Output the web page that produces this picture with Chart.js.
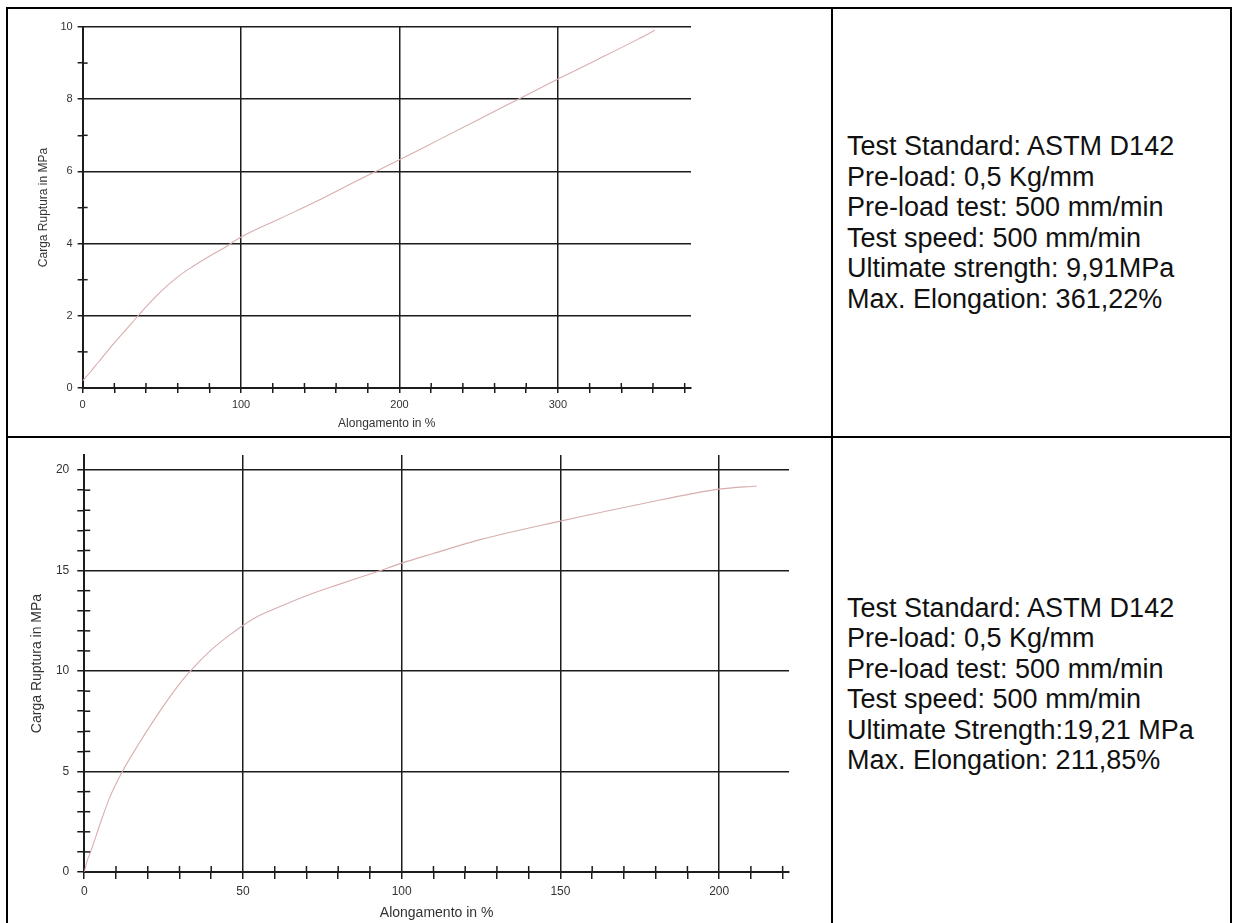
<!DOCTYPE html>
<html>
<head>
<meta charset="utf-8">
<script src="https://cdn.jsdelivr.net/npm/chart.js@4/dist/chart.umd.min.js"></script>
<style>
	html, body { margin: 0; padding: 0; background: #fff; overflow: hidden; }
	body { width: 1239px; height: 923px; position: relative; font-family: 'Liberation Sans', Arial, sans-serif; }
	.rule { position: absolute; background: #000; z-index: 2; }
	canvas { position: absolute; left: 0; }
	.info {
		position: absolute; left: 847px; width: 380px;
		display: flex; flex-direction: column; justify-content: center;
		font-size: 27px; line-height: 30.5px; color: #111;
	}
</style>
</head>
<body>
<div class="rule" style="left:6px;top:7px;width:1226px;height:2px"></div>
<div class="rule" style="left:6px;top:436px;width:1226px;height:2px"></div>
<div class="rule" style="left:6px;top:7px;width:2px;height:930px"></div>
<div class="rule" style="left:831px;top:7px;width:2px;height:930px"></div>
<div class="rule" style="left:1230px;top:7px;width:2px;height:930px"></div>

<canvas id="chart-top" style="top:0"></canvas>
<canvas id="chart-bottom" style="top:438px"></canvas>

<div class="info" style="top:9px;height:427px">
	<div>Test Standard: ASTM D142</div>
	<div>Pre-load: 0,5 Kg/mm</div>
	<div>Pre-load test: 500 mm/min</div>
	<div>Test speed: 500 mm/min</div>
	<div>Ultimate strength: 9,91MPa</div>
	<div>Max. Elongation: 361,22%</div>
</div>
<div class="info" style="top:438px;height:492px">
	<div>Test Standard: ASTM D142</div>
	<div>Pre-load: 0,5 Kg/mm</div>
	<div>Pre-load test: 500 mm/min</div>
	<div>Test speed: 500 mm/min</div>
	<div>Ultimate Strength:19,21 MPa</div>
	<div>Max. Elongation: 211,85%</div>
</div>

<script>
// sample 1 : elongation (%) / load (MPa)
const topElongation = [0, 5, 10, 20, 30, 40, 50, 60, 70, 80, 90, 100, 125, 150, 175, 200, 225, 250, 275, 300, 325, 350, 361.22];
const topLoad = [0.2, 0.45, 0.72, 1.25, 1.75, 2.25, 2.7, 3.08, 3.38, 3.65, 3.9, 4.18, 4.7, 5.22, 5.78, 6.32, 6.88, 7.44, 8.0, 8.56, 9.1, 9.65, 9.91];
const topXLabels = [0, 100, 200, 300];
const topYLabels = [0, 2, 4, 6, 8, 10];

// sample 2
const bottomElongation = [0, 1, 2, 5, 8, 12, 17, 24, 30, 33.4, 40, 45, 50, 55, 60, 70, 80, 92, 100, 110, 125, 150, 175, 200, 211.85];
const bottomLoad = [0, 0.6, 1.0, 2.4, 3.7, 5.0, 6.33, 8.04, 9.36, 10.0, 11.05, 11.7, 12.27, 12.75, 13.1, 13.75, 14.3, 14.93, 15.37, 15.85, 16.55, 17.46, 18.3, 19.05, 19.21];
const bottomXLabels = [0, 50, 100, 150, 200];
const bottomYLabels = [0, 5, 10, 15, 20];

const INK = '#1c1c1c';
const CURVE = '#d8aeae';

// short tick marks on the inner side of the axes (the minor ones have no grid line)
const minorTicks = {
	id: 'minorTicks',
	afterDatasetsDraw(chart, args, opts) {
		const ctx = chart.ctx;
		const area = chart.chartArea;
		const xs = chart.scales.x, ys = chart.scales.y;
		ctx.save();
		ctx.strokeStyle = INK;
		ctx.lineWidth = 1.5;
		xs.ticks.forEach(t => {
			if (opts.xMajor.includes(t.value)) return;
			const px = xs.getPixelForValue(t.value);
			ctx.beginPath();
			ctx.moveTo(px, area.bottom);
			ctx.lineTo(px, area.bottom - opts.inner);
			ctx.stroke();
		});
		ys.ticks.forEach(t => {
			if (opts.yMajor.includes(t.value)) return;
			const py = ys.getPixelForValue(t.value);
			ctx.beginPath();
			ctx.moveTo(area.left, py);
			ctx.lineTo(area.left + opts.inner, py);
			ctx.stroke();
		});
		ctx.restore();
	}
};

function createChart(options) {
	const canvas = document.getElementById(options.id);
	canvas.width = options.width;
	canvas.height = options.height;
	canvas.style.width = options.width + 'px';
	canvas.style.height = options.height + 'px';

	const points = options.xs.map((x, i) => ({ x, y: options.ys[i] }));
	const gridColor = list => ctx => list.includes(ctx.tick.value) ? INK : 'rgba(0,0,0,0)';
	const tickFont = { family: "'Liberation Sans', Arial, sans-serif", size: options.tickSize, lineHeight: options.lineHeight };
	const titleFont = { family: "'Liberation Sans', Arial, sans-serif", size: options.titleSize, lineHeight: options.lineHeight };

	return new Chart(canvas.getContext('2d'), {
		type: 'scatter',
		data: {
			datasets: [{
				data: points,
				showLine: true,
				borderColor: CURVE,
				borderWidth: 1.1,
				pointRadius: 0,
				cubicInterpolationMode: 'monotone',
			}]
		},
		options: {
			responsive: false,
			animation: false,
			layout: { padding: options.padding },
			scales: {
				x: {
					type: 'linear',
					min: 0,
					max: options.xMax,
					border: { color: INK, width: 2 },
					grid: { color: gridColor(options.xLabels), tickColor: INK, lineWidth: 1.5, tickLength: options.xTickLength },
					ticks: {
						stepSize: options.xStep,
						includeBounds: false,
						autoSkip: false,
						maxRotation: 0,
						padding: options.xTickPadding,
						color: '#333',
						font: tickFont,
						callback: v => options.xLabels.includes(v) ? String(v) : '',
					},
					title: {
						display: true,
						text: 'Alongamento in %',
						color: '#333',
						font: titleFont,
						padding: options.xTitlePadding,
					},
				},
				y: {
					type: 'linear',
					min: 0,
					max: options.yMax,
					border: { color: INK, width: 2 },
					grid: { color: gridColor(options.yLabels), tickColor: INK, lineWidth: 1.5, tickLength: options.yTickLength },
					ticks: {
						stepSize: options.yStep,
						includeBounds: false,
						autoSkip: false,
						padding: options.yTickPadding,
						color: '#333',
						font: tickFont,
						callback: v => options.yLabels.includes(v) ? String(v) : '',
					},
					title: {
						display: true,
						text: 'Carga Ruptura in MPa',
						color: '#333',
						font: titleFont,
						padding: options.yTitlePadding,
					},
				},
			},
			plugins: {
				legend: { display: false },
				tooltip: { enabled: false },
				minorTicks: { xMajor: options.xLabels, yMajor: options.yLabels, inner: options.inner },
			},
		},
		plugins: [minorTicks],
	});
}

createChart({
	id: 'chart-top',
	width: 831, height: 436,
	xs: topElongation, ys: topLoad,
	xLabels: topXLabels, yLabels: topYLabels,
	xMax: 384, xStep: 20, yMax: 10, yStep: 1,
	tickSize: 11, titleSize: 12, lineHeight: 1.2,
	xTickLength: 5, yTickLength: 5, inner: 5,
	xTickPadding: 5, yTickPadding: 5,
	xTitlePadding: { top: 0.6, bottom: 4 },
	yTitlePadding: { top: 4, bottom: 4.5 },
	padding: { left: 32.5, top: 27, right: 140, bottom: 0.8 },
});

createChart({
	id: 'chart-bottom',
	width: 831, height: 485,
	xs: bottomElongation, ys: bottomLoad,
	xLabels: bottomXLabels, yLabels: bottomYLabels,
	xMax: 222, xStep: 10, yMax: 20.75, yStep: 1,
	tickSize: 12, titleSize: 14, lineHeight: 1.0,
	xTickLength: 7, yTickLength: 7, inner: 6,
	xTickPadding: 7, yTickPadding: 8,
	xTitlePadding: { top: 1, bottom: 3 },
	yTitlePadding: { top: 4, bottom: 3.3 },
	padding: { left: 26.6, top: 17, right: 42, bottom: 0 },
});
</script>
</body>
</html>
